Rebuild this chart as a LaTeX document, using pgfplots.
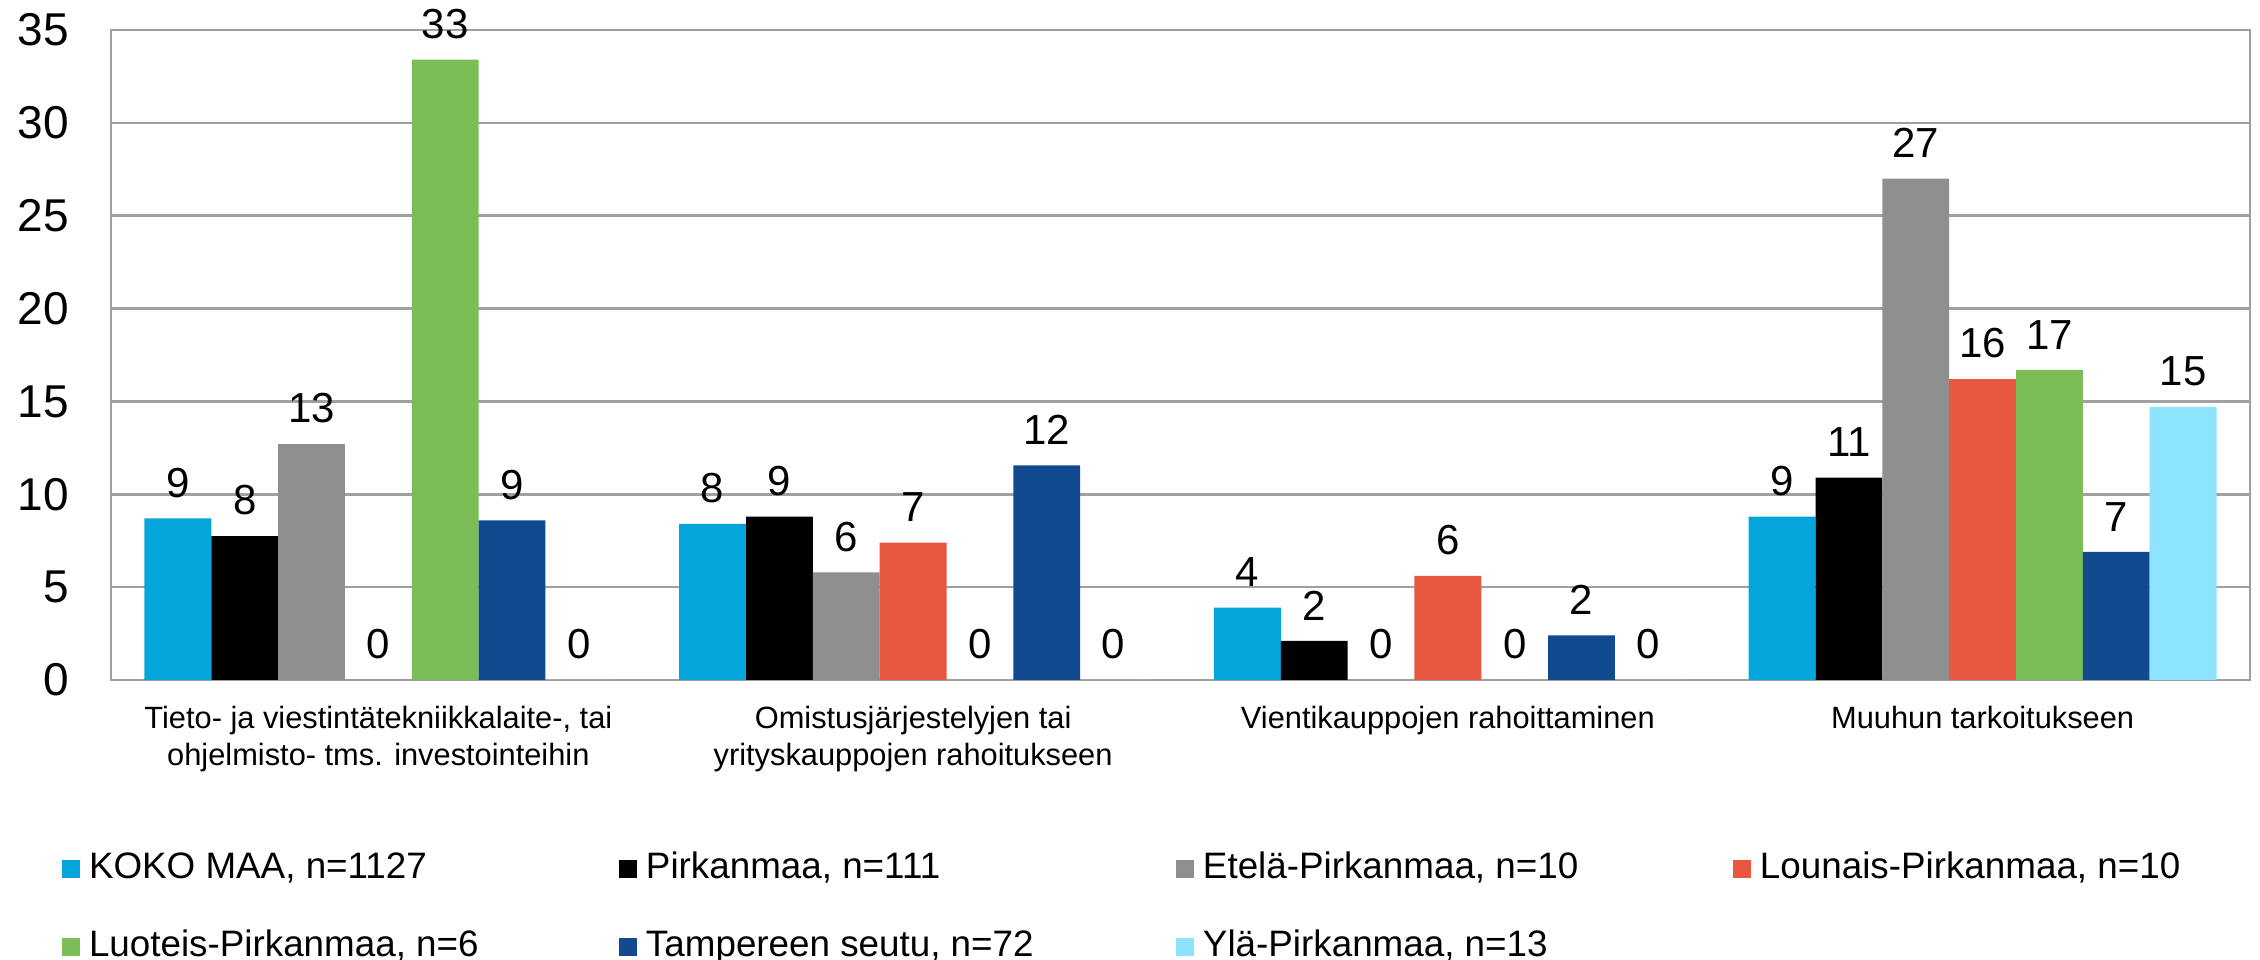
\documentclass[border=0pt]{standalone}
\usepackage{fontspec}
\setmainfont{Liberation Sans}
\usepackage{pgfplots}
\pgfplotsset{compat=1.18}
\definecolor{cKoko}{HTML}{03A5DA}
\definecolor{cPirk}{HTML}{000000}
\definecolor{cEtela}{HTML}{8F8F8F}
\definecolor{cLounais}{HTML}{E8573F}
\definecolor{cLuoteis}{HTML}{7BBD56}
\definecolor{cTampere}{HTML}{124A8F}
\definecolor{cYla}{HTML}{8BE3FE}
\definecolor{gridgray}{HTML}{A0A0A0}
\pgfplotsset{sqlegend/.style={legend image code/.code={\fill[##1] (0pt,-2.25pt) rectangle (4.5pt,2.25pt);}}}
\newcommand{\legtxt}[1]{\makebox[132.5pt][l]{#1}}
\begin{document}
\begin{tikzpicture}
\useasboundingbox (0,0) rectangle (565pt,240pt);
\begin{axis}[
  at={(27.75pt,70pt)}, anchor=south west,
  scale only axis, width=534.75pt, height=162.5pt,
  ybar=0pt, bar width=16.71pt,
  xmin=-0.5, xmax=3.5, ymin=0, ymax=35,
  ytick={0,5,...,35},
  xtick={0,1,2,3},
  xticklabels={{Tieto- ja viestintätekniikkalaite-, tai\\ohjelmisto- tms. investointeihin},{Omistusjärjestelyjen tai\\yrityskauppojen rahoitukseen},{Vientikauppojen rahoittaminen},{Muuhun tarkoitukseen}},
  major tick length=0pt,
  ymajorgrids, grid style={color=gridgray, line width=0.65pt},
  axis line style={color=gridgray, line width=0.65pt},
  /pgf/number format/assume math mode=true,
  yticklabel style={font=\fontsize{11.5}{13}\selectfont, xshift=-7pt},
  xticklabel style={font=\fontsize{7.7}{9.3}\selectfont, align=center, inner sep=0pt, yshift=-6.25pt},
  nodes near coords={\pgfmathprintnumber[fixed,precision=0]{\pgfplotspointmeta}},
  every node near coord/.append style={font=\fontsize{10.5}{12}\selectfont, inner sep=0pt, yshift=5pt, text=black},
  legend columns=4,
  legend style={draw=none, fill=none, inner sep=0pt, outer sep=0pt,
    at={(axis description cs:0,0)}, anchor=north west, xshift=-12.25pt, yshift=-37.4pt,
    font=\fontsize{9.2}{10}\selectfont, cells={anchor=west},
    nodes={inner sep=0pt, text height=12.35pt, text depth=7.15pt},
    /tikz/every odd column/.append style={column sep=2.25pt},
    /tikz/every even column/.append style={column sep=0pt}, row sep=0pt},
]
\addplot[fill=cKoko, draw=none, sqlegend] coordinates {(0,8.7) (1,8.4) (2,3.9) (3,8.8)};
\addlegendentry{\legtxt{KOKO MAA, n=1127}}
\addplot[fill=cPirk, draw=none, sqlegend] coordinates {(0,7.75) (1,8.8) (2,2.1) (3,10.9)};
\addlegendentry{\legtxt{Pirkanmaa, n=111}}
\addplot[fill=cEtela, draw=none, sqlegend] coordinates {(0,12.7) (1,5.8) (2,0) (3,27.0)};
\addlegendentry{\legtxt{Etelä-Pirkanmaa, n=10}}
\addplot[fill=cLounais, draw=none, sqlegend] coordinates {(0,0) (1,7.4) (2,5.6) (3,16.2)};
\addlegendentry{\legtxt{Lounais-Pirkanmaa, n=10}}
\addplot[fill=cLuoteis, draw=none, sqlegend] coordinates {(0,33.4) (1,0) (2,0) (3,16.7)};
\addlegendentry{\legtxt{Luoteis-Pirkanmaa, n=6}}
\addplot[fill=cTampere, draw=none, sqlegend] coordinates {(0,8.6) (1,11.55) (2,2.4) (3,6.9)};
\addlegendentry{\legtxt{Tampereen seutu, n=72}}
\addplot[fill=cYla, draw=none, sqlegend] coordinates {(0,0) (1,0) (2,0) (3,14.7)};
\addlegendentry{\legtxt{Ylä-Pirkanmaa, n=13}}
\end{axis}
\end{tikzpicture}
\end{document}
